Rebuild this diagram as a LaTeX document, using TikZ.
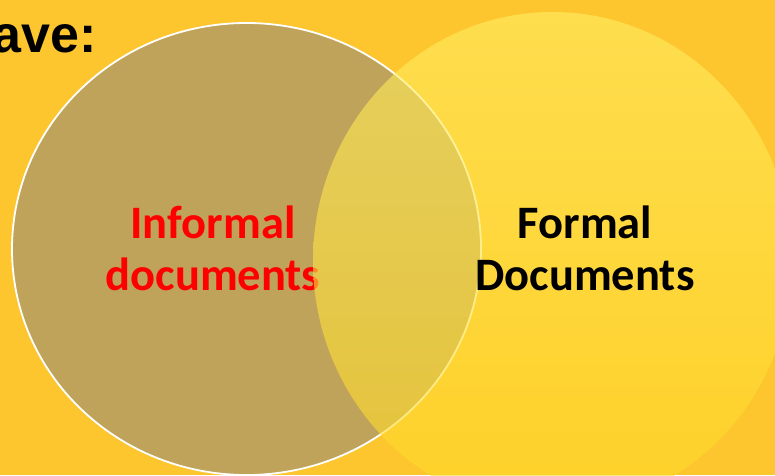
\documentclass[tikz,border=0pt]{standalone}
\usepackage{fontspec}
\setmainfont{Liberation Sans}
\newfontfamily\calib{Carlito}
\usetikzlibrary{shapes.geometric}
\definecolor{bgyel}{RGB}{253,198,47}
\definecolor{leftfill}{RGB}{191,163,90}
\definecolor{rtop}{RGB}{255,238,99}
\definecolor{rbot}{RGB}{255,216,36}
\definecolor{lblred}{RGB}{255,0,0}
\tikzset{
  lbl/.style={font=\calib\bfseries\fontsize{46.5}{52}\selectfont, align=center, anchor=base, inner sep=0pt},
  head/.style={font=\bfseries\fontsize{52}{60}\selectfont, anchor=base east, inner sep=0pt}
}
\begin{document}
\begin{tikzpicture}[x=1pt,y=1pt]
\useasboundingbox (0,0) rectangle (775,475);
\fill[bgyel] (0,0) rectangle (775,475);
\node[head] (hd) at (97,422) {ave:};
\node[ellipse, minimum width=469pt, minimum height=452pt, inner sep=0pt, fill=leftfill, draw=white, line width=1.8pt] (L) at (246.5,226) {};
\node[lbl, text=lblred] (inf) at (213,185) {Informal\\documents};
\shade[top color=rtop, bottom color=rbot, fill opacity=0.6] (552.5,214) ellipse [x radius=239.5, y radius=249];
\node[ellipse, minimum width=479pt, minimum height=498pt, inner sep=0pt] (R) at (552.5,214) {};
\node[lbl, text=black] (fml) at (585,185) {Formal\\Documents};
\end{tikzpicture}
\end{document}
